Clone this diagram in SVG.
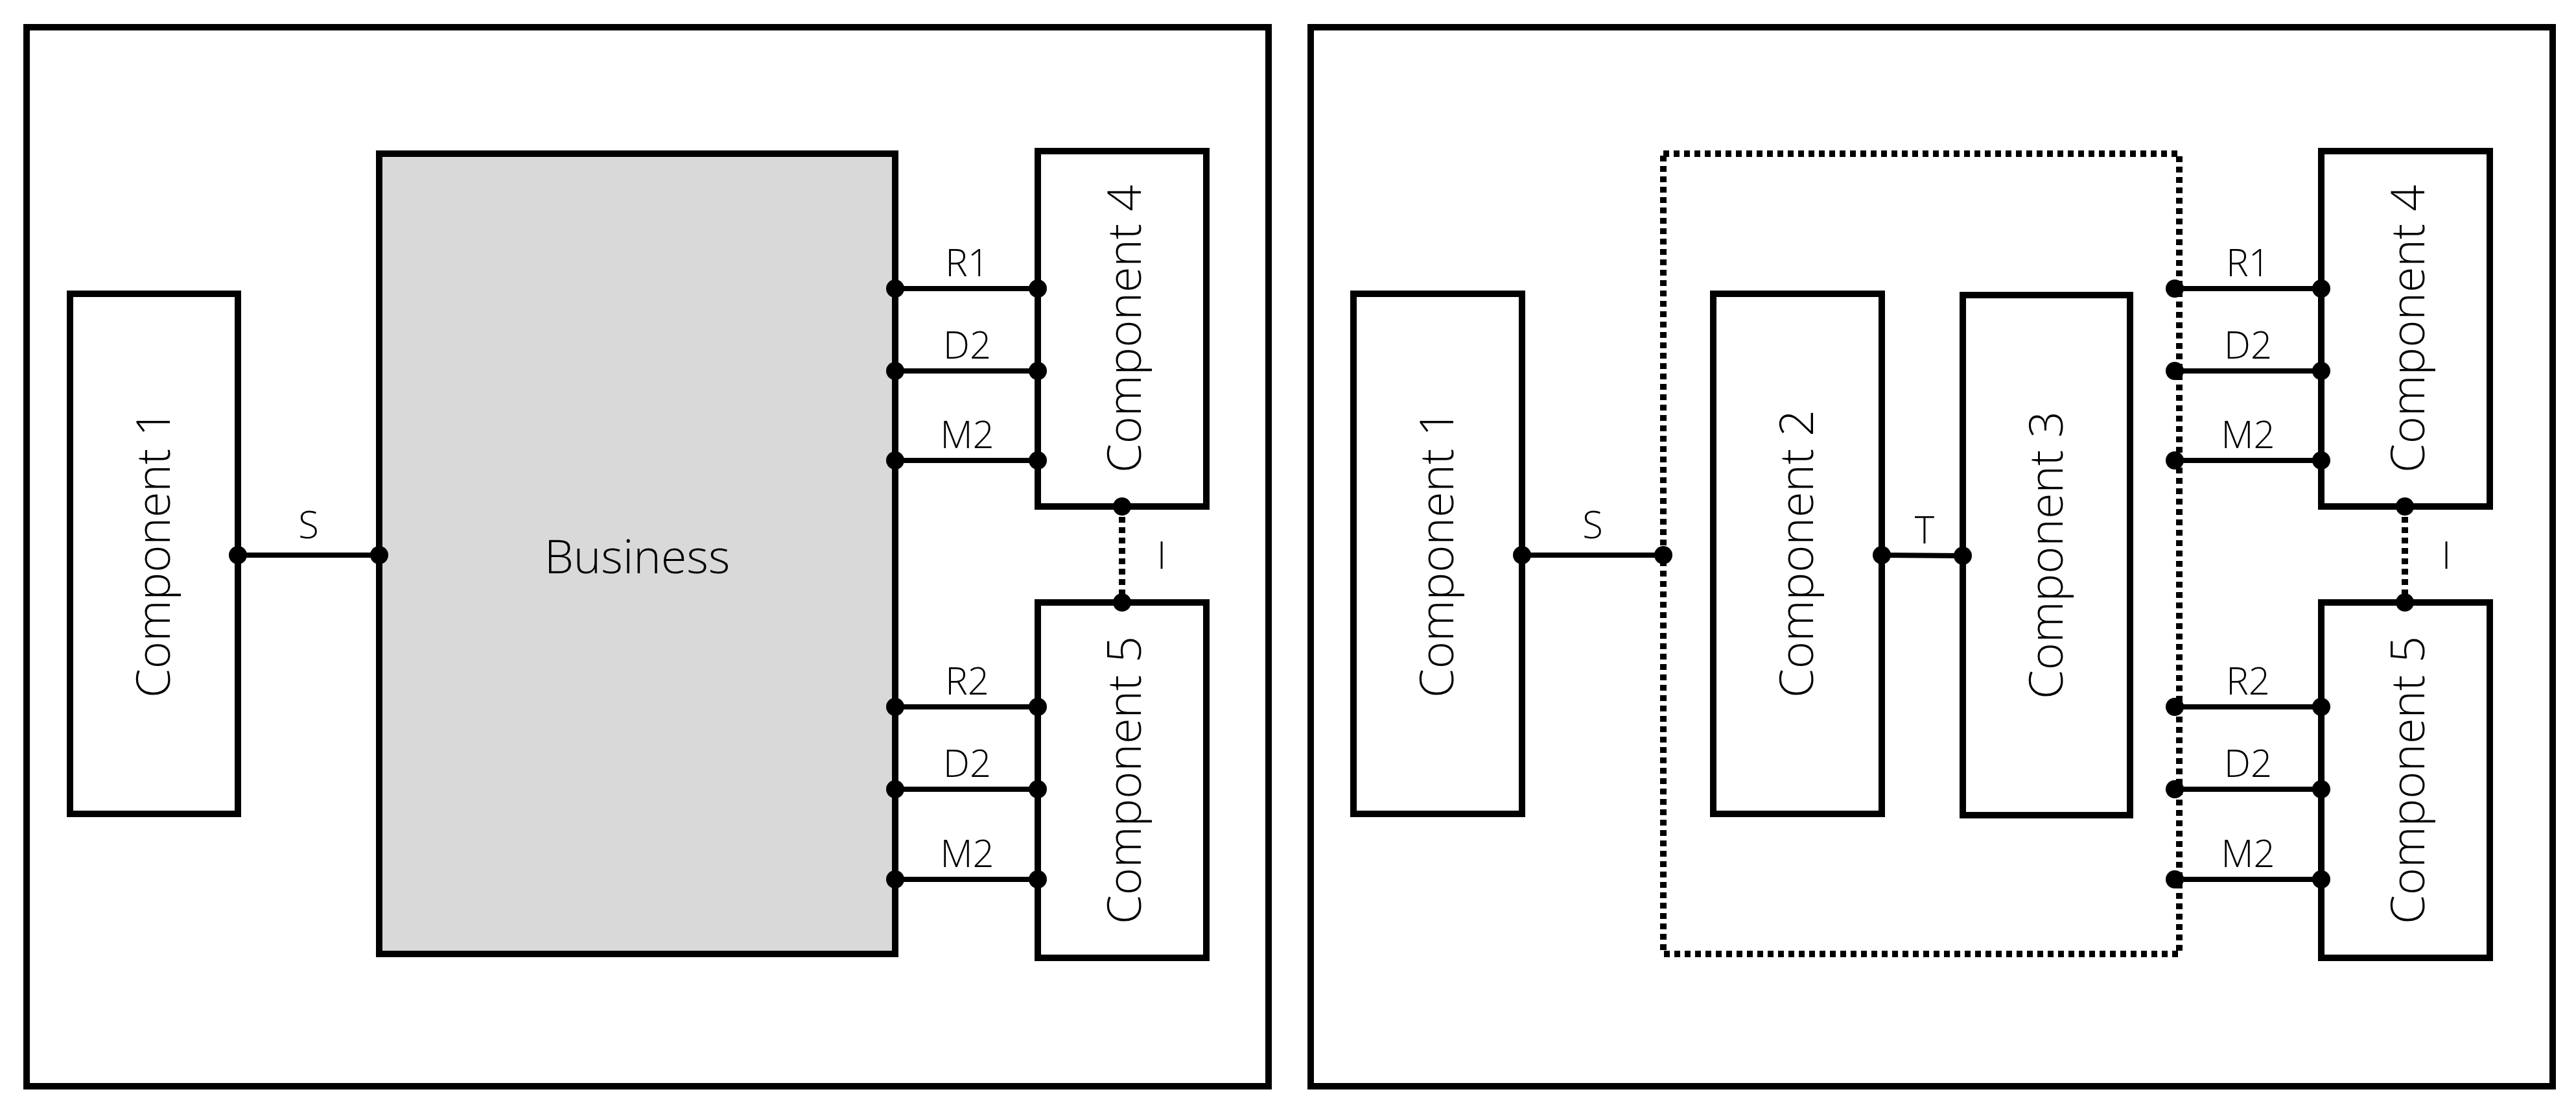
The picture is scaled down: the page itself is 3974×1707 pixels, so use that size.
<svg xmlns="http://www.w3.org/2000/svg" width="3974" height="1707" viewBox="0 0 3974 1707">
<style>
.box{fill:#fff;stroke:#000;stroke-width:10}
.frame{fill:#fff;stroke:#000;stroke-width:10}
.ln{stroke:#000;stroke-width:8;fill:none}
.dt{stroke:#000;stroke-width:10;fill:none;stroke-dasharray:9 7}
.comp{font-family:"Open Sans","Noto Sans",sans-serif;font-weight:300;font-size:72px;text-anchor:middle;fill:#000}
.lb{font-family:"Open Sans","Noto Sans",sans-serif;font-weight:300;font-size:58px;text-anchor:middle;fill:#000}
circle{fill:#000}
</style>
<rect width="3974" height="1707" fill="#fff"/>
<rect class="frame" x="41" y="42" width="1916" height="1633"/>
<rect class="frame" x="2022" y="42" width="1916" height="1633"/>

<g id="l-comp1"><rect class="box" x="108" y="453" width="259" height="802"/><text class="comp" transform="translate(262,854) rotate(-90)">Component 1</text></g>
<g id="l-business"><rect x="585" y="237" width="796" height="1234" fill="#d9d9d9" stroke="#000" stroke-width="10"/><text class="comp" x="983" y="884">Business</text></g>
<g id="l-comp4"><rect class="box" x="1601" y="233" width="260" height="548"/><text class="comp" transform="translate(1760,507) rotate(-90)">Component 4</text></g>
<g id="l-comp5"><rect class="box" x="1601" y="929" width="260" height="548"/><text class="comp" transform="translate(1760,1203) rotate(-90)">Component 5</text></g>

<g id="r-comp1"><rect class="box" x="2088" y="453" width="260" height="802"/><text class="comp" transform="translate(2242,854) rotate(-90)">Component 1</text></g>
<g id="r-group"><rect class="dt" x="2566" y="237" width="796" height="1234"/></g>
<g id="r-comp2"><rect class="box" x="2643" y="453" width="260" height="802"/><text class="comp" transform="translate(2797,854) rotate(-90)">Component 2</text></g>
<g id="r-comp3"><rect class="box" x="3028" y="455" width="258" height="802"/><text class="comp" transform="translate(3182,856) rotate(-90)">Component 3</text></g>
<g id="r-comp4"><rect class="box" x="3581" y="233" width="260" height="548"/><text class="comp" transform="translate(3740,507) rotate(-90)">Component 4</text></g>
<g id="r-comp5"><rect class="box" x="3581" y="929" width="260" height="548"/><text class="comp" transform="translate(3740,1203) rotate(-90)">Component 5</text></g>

<g id="connectors">
<line class="ln" x1="367" y1="856" x2="585" y2="856"/><circle cx="367" cy="856" r="14"/><circle cx="585" cy="856" r="14"/><text class="lb" x="476" y="830">S</text>
<g>
<line class="ln" x1="1381" y1="445" x2="1601" y2="445"/><circle cx="1381" cy="445" r="14"/><circle cx="1601" cy="445" r="14"/><text class="lb" x="1492" y="426">R1</text>
<line class="ln" x1="1381" y1="572" x2="1601" y2="572"/><circle cx="1381" cy="572" r="14"/><circle cx="1601" cy="572" r="14"/><text class="lb" x="1492" y="553">D2</text>
<line class="ln" x1="1381" y1="710" x2="1601" y2="710"/><circle cx="1381" cy="710" r="14"/><circle cx="1601" cy="710" r="14"/><text class="lb" x="1492" y="691">M2</text>
<line class="ln" x1="1381" y1="1090" x2="1601" y2="1090"/><circle cx="1381" cy="1090" r="14"/><circle cx="1601" cy="1090" r="14"/><text class="lb" x="1492" y="1071">R2</text>
<line class="ln" x1="1381" y1="1217" x2="1601" y2="1217"/><circle cx="1381" cy="1217" r="14"/><circle cx="1601" cy="1217" r="14"/><text class="lb" x="1492" y="1198">D2</text>
<line class="ln" x1="1381" y1="1356" x2="1601" y2="1356"/><circle cx="1381" cy="1356" r="14"/><circle cx="1601" cy="1356" r="14"/><text class="lb" x="1492" y="1337">M2</text>
</g>
<line class="dt" x1="1731" y1="781" x2="1731" y2="929"/><circle cx="1731" cy="781" r="14"/><circle cx="1731" cy="929" r="14"/><text class="lb" x="1792" y="877">I</text>

<line class="ln" x1="2348" y1="856" x2="2566" y2="856"/><circle cx="2348" cy="856" r="14"/><circle cx="2566" cy="856" r="14"/><text class="lb" x="2457" y="830">S</text>
<line class="ln" x1="2903" y1="856" x2="3028" y2="857"/><circle cx="2903" cy="856" r="14"/><circle cx="3028" cy="857" r="14"/><text class="lb" x="2969" y="838">T</text>
<g>
<line class="ln" x1="3355" y1="445" x2="3581" y2="445"/><circle cx="3355" cy="445" r="14"/><circle cx="3581" cy="445" r="14"/><text class="lb" x="3468" y="426">R1</text>
<line class="ln" x1="3355" y1="572" x2="3581" y2="572"/><circle cx="3355" cy="572" r="14"/><circle cx="3581" cy="572" r="14"/><text class="lb" x="3468" y="553">D2</text>
<line class="ln" x1="3355" y1="710" x2="3581" y2="710"/><circle cx="3355" cy="710" r="14"/><circle cx="3581" cy="710" r="14"/><text class="lb" x="3468" y="691">M2</text>
<line class="ln" x1="3355" y1="1090" x2="3581" y2="1090"/><circle cx="3355" cy="1090" r="14"/><circle cx="3581" cy="1090" r="14"/><text class="lb" x="3468" y="1071">R2</text>
<line class="ln" x1="3355" y1="1217" x2="3581" y2="1217"/><circle cx="3355" cy="1217" r="14"/><circle cx="3581" cy="1217" r="14"/><text class="lb" x="3468" y="1198">D2</text>
<line class="ln" x1="3355" y1="1356" x2="3581" y2="1356"/><circle cx="3355" cy="1356" r="14"/><circle cx="3581" cy="1356" r="14"/><text class="lb" x="3468" y="1337">M2</text>
</g>
<line class="dt" x1="3710" y1="781" x2="3710" y2="929"/><circle cx="3710" cy="781" r="14"/><circle cx="3710" cy="929" r="14"/><text class="lb" x="3774" y="877">I</text>
</g>
</svg>
